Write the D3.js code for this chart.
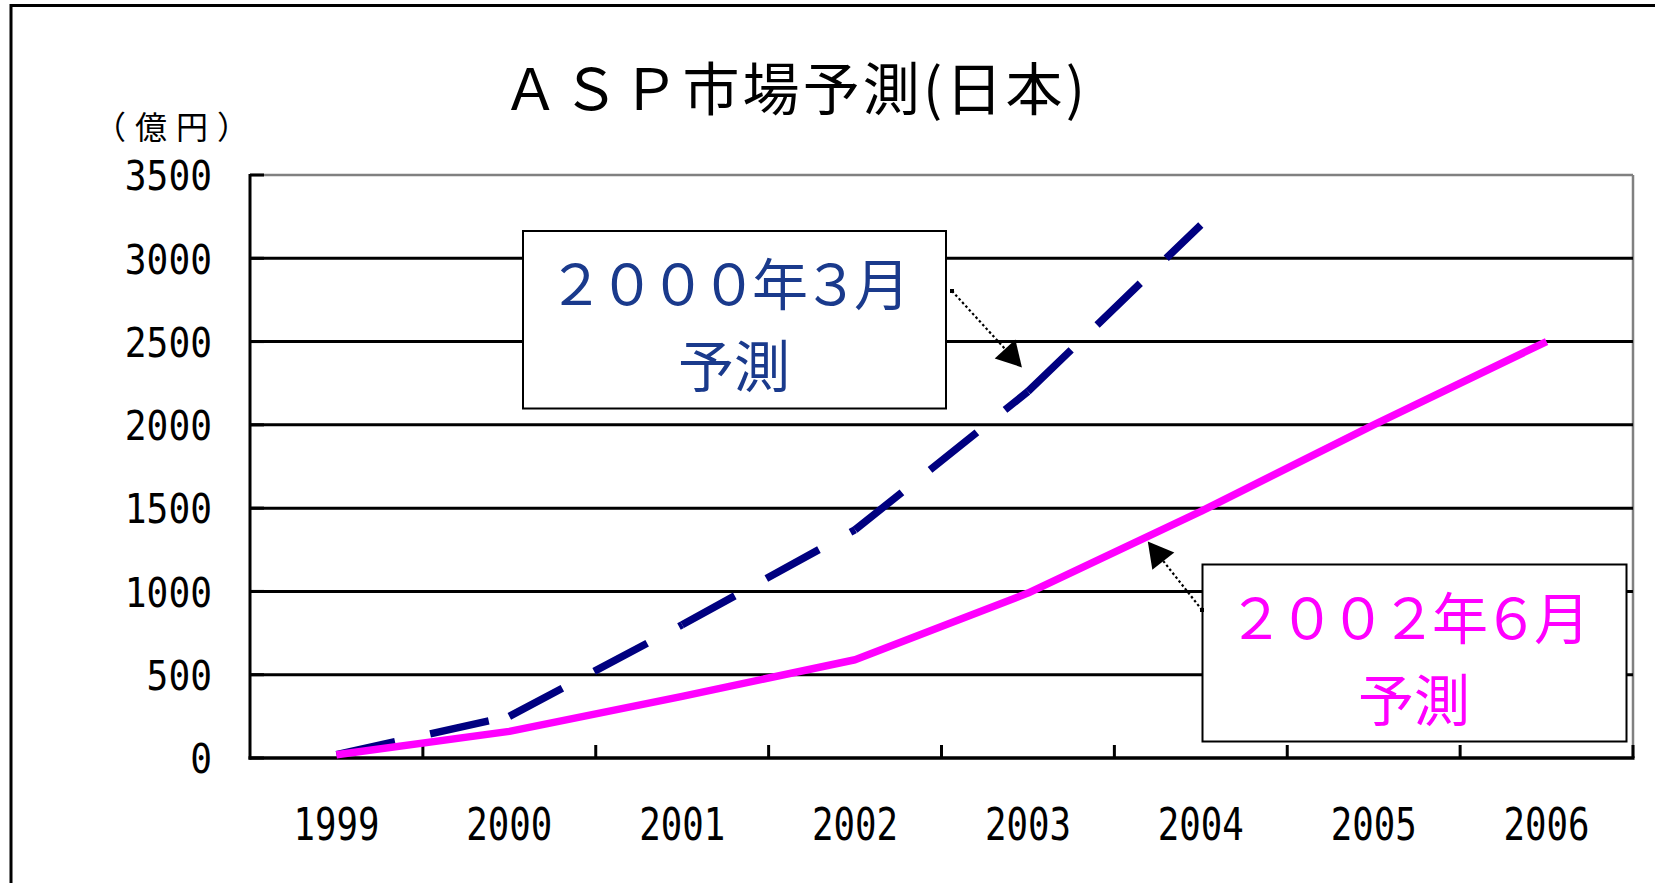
<!DOCTYPE html>
<html><head><meta charset="utf-8">
<script src="https://cdn.jsdelivr.net/npm/d3@7/dist/d3.min.js"></script>
<style>
html,body{margin:0;padding:0;background:#fff;}
svg{display:block;}
</style></head>
<body>
<svg id="chart" width="1655" height="883"></svg>
<script>
// ---- data ----
const years = ["1999","2000","2001","2002","2003","2004","2005","2006"];
const yTicks = [0,500,1000,1500,2000,2500,3000,3500];
const forecastMar2000 = [20, 250, 800, 1370, 2200, 3200];           // 1999-2004
const forecastJun2002 = [20, 160, 370, 590, 990, 1480, 2000, 2500]; // 1999-2006
const titleText = "ＡＳＰ市場予測(日本)";
const unitText = "（億円）";
const label2000 = ["２０００年３月", "予測"];
const label2002 = ["２００２年６月", "予測"];

const svg = d3.select("#chart");
const CJK = "'Noto Sans CJK JP','Noto Sans CJK SC',sans-serif";
const MONO = "'DejaVu Sans Mono',monospace";

// outer frame
svg.append("rect").attr("x",11).attr("y",5.5).attr("width",1700).attr("height",1000)
  .attr("fill","none").attr("stroke","#000").attr("stroke-width",3);

const L=250, R=1633, T=175, B=758;
const x = d3.scaleBand().domain(years).range([L,R]).padding(0);
const y = d3.scaleLinear().domain([0,3500]).range([B,T]);
const cx = d => x(d) + x.bandwidth()/2;

// plot border (gray top/right)
svg.append("line").attr("x1",L).attr("x2",R).attr("y1",y(3500)).attr("y2",y(3500))
  .attr("stroke","#808080").attr("stroke-width",2.5);
svg.append("line").attr("x1",R).attr("x2",R).attr("y1",T).attr("y2",B)
  .attr("stroke","#808080").attr("stroke-width",2.5);

// gridlines
svg.append("g").selectAll("line").data(yTicks.filter(v=>v>0 && v<3500)).join("line")
  .attr("x1",L).attr("x2",R).attr("y1",d=>y(d)).attr("y2",d=>y(d))
  .attr("stroke","#000").attr("stroke-width",3);

// y axis (labels via d3 axis)
const yAxis = svg.append("g").attr("transform",`translate(${L},0)`)
  .call(d3.axisLeft(y).tickValues(yTicks).tickSize(0).tickPadding(38).tickFormat(d3.format("d")));
yAxis.select(".domain").remove();
yAxis.selectAll("text")
  .attr("font-family",MONO).attr("font-size",41).attr("fill","#000")
  .attr("dy","0.36em")
  .attr("textLength", d => String(d).length*21.8).attr("lengthAdjust","spacingAndGlyphs");
// inward y ticks
svg.append("g").selectAll("line").data(yTicks).join("line")
  .attr("x1",L).attr("x2",L+14).attr("y1",d=>y(d)).attr("y2",d=>y(d))
  .attr("stroke","#000").attr("stroke-width",3);

// x axis labels
const xAxis = svg.append("g").attr("transform",`translate(0,${B})`)
  .call(d3.axisBottom(x).tickSize(0).tickPadding(0));
xAxis.select(".domain").remove();
xAxis.selectAll("text")
  .attr("font-family",MONO).attr("font-size",45).attr("fill","#000")
  .attr("y",66).attr("dy","0.36em")
  .attr("textLength",86).attr("lengthAdjust","spacingAndGlyphs");
// x ticks at category boundaries (inward)
svg.append("g").selectAll("line").data(years.slice(1).map(d=>x(d)).concat([R])).join("line")
  .attr("x1",d=>d).attr("x2",d=>d).attr("y1",B).attr("y2",B-13)
  .attr("stroke","#000").attr("stroke-width",3);

// axis lines
svg.append("line").attr("x1",L).attr("x2",L).attr("y1",T-1).attr("y2",B+1.5)
  .attr("stroke","#000").attr("stroke-width",3);
svg.append("line").attr("x1",L-1.5).attr("x2",R+1.5).attr("y1",B).attr("y2",B)
  .attr("stroke","#000").attr("stroke-width",3.5);

// series: Mar 2000 forecast (dashed, pattern restarts per segment)
const line = d3.line().x(d=>cx(d[0])).y(d=>y(d[1]));
const navyPts = forecastMar2000.map((v,i)=>[years[i],v]);
const gNavy = svg.append("g");
for(let i=0;i<navyPts.length-1;i++){
  gNavy.append("path").attr("d",line([navyPts[i],navyPts[i+1]]))
    .attr("fill","none").attr("stroke","#000080").attr("stroke-width",7.5)
    .attr("stroke-dasharray","60 36");
}
// Jun 2002 forecast (solid)
const pinkPts = forecastJun2002.map((v,i)=>[years[i],v]);
svg.append("path").attr("d",line(pinkPts))
  .attr("fill","none").attr("stroke","#ff00ff").attr("stroke-width",7.5)
  .attr("stroke-linejoin","round");

// callout boxes
function callout(bx,by,bw,bh,lines,color,textCx){
  const g = svg.append("g");
  g.append("rect").attr("x",bx).attr("y",by).attr("width",bw).attr("height",bh)
    .attr("fill","#fff").attr("stroke","#000").attr("stroke-width",2);
  g.append("text").attr("x",textCx).attr("y",by+74).attr("text-anchor","middle")
    .attr("font-family",CJK).attr("font-size",56).attr("fill",color)
    .attr("textLength",362).attr("lengthAdjust","spacing").text(lines[0]);
  g.append("text").attr("x",textCx+5).attr("y",by+156).attr("text-anchor","middle")
    .attr("font-family",CJK).attr("font-size",56).attr("fill",color).text(lines[1]);
}
callout(523,231,423,177.5,label2000,"#1a3a8c",729);
callout(1202.5,564.5,424,177,label2002,"#ff00ff",1409);

// arrows (dotted leader + filled head), tips anchored to the series via scales
function arrow(x0,y0,x1,y1){
  const dx=x1-x0, dy=y1-y0, len=Math.hypot(dx,dy), ux=dx/len, uy=dy/len;
  const hl=25, hw=14;
  const bxp=x1-ux*hl, byp=y1-uy*hl;
  svg.append("line").attr("x1",x0).attr("y1",y0).attr("x2",bxp).attr("y2",byp)
    .attr("stroke","#000").attr("stroke-width",2.2).attr("stroke-dasharray","2.5 2.5");
  svg.append("polygon").attr("points",[
    [x1,y1],[bxp-uy*hw,byp+ux*hw],[bxp+uy*hw,byp-ux*hw]].map(p=>p.join(",")).join(" "))
    .attr("fill","#000");
  svg.append("rect").attr("x",x0-2).attr("y",y0-2).attr("width",4).attr("height",4).attr("fill","#000");
}
arrow(952, 291, cx("2003")-6, y(2345));
arrow(1202, 610, cx("2004")-53, y(1300));

// title and unit
svg.append("text").attr("x",502).attr("y",110).attr("font-family",CJK).attr("font-size",57)
  .attr("fill","#000").attr("textLength",583).attr("lengthAdjust","spacing").text(titleText);
svg.append("text").attr("x",94).attr("y",139).attr("font-family",CJK).attr("font-size",32)
  .attr("fill","#000").attr("letter-spacing","9px").text(unitText);
</script>
</body></html>
